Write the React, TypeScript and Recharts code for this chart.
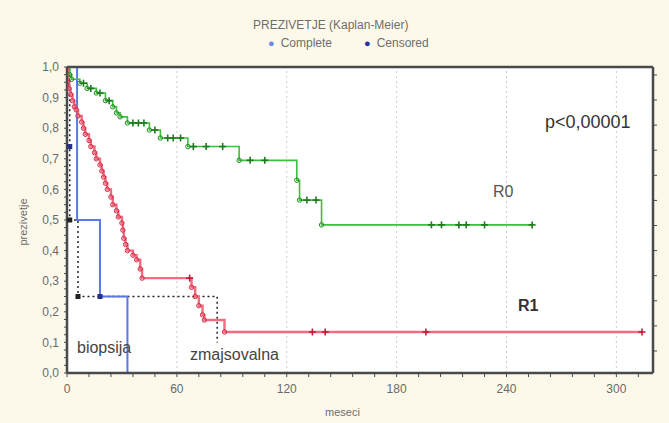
import React from 'react';
import { ComposedChart, Line, Scatter, XAxis, YAxis, CartesianGrid, ReferenceLine } from 'recharts';

// R0 (green) step curve
const r0Months = [0, 1.5, 2.5, 7, 11, 16, 21, 25, 27, 29, 33, 45, 51, 66, 94, 125.5, 127, 139, 254];
const r0Surv = [1.0, 0.975, 0.96, 0.947, 0.93, 0.915, 0.89, 0.87, 0.85, 0.837, 0.817, 0.794, 0.768, 0.74, 0.695, 0.63, 0.565, 0.484, 0.484];
const r0CensMonths = [9, 13, 18, 23, 36, 39, 42, 48, 55, 58, 62, 69, 76, 85, 100, 108, 131, 136, 199, 204.5, 214, 218, 228, 254];
const r0CensSurv = [0.947, 0.93, 0.915, 0.89, 0.817, 0.817, 0.817, 0.794, 0.768, 0.768, 0.768, 0.74, 0.74, 0.74, 0.695, 0.695, 0.565, 0.565, 0.484, 0.484, 0.484, 0.484, 0.484, 0.484];

// R1 (red) step curve
const r1Months = [0, 0.5, 1, 2, 3, 4, 5, 6, 8, 9, 10, 12, 13, 15, 16, 18, 19, 20, 21, 22, 24, 25, 27, 28, 30, 30.5, 31, 32, 33, 36, 38, 40, 41, 68, 70, 72, 74, 75, 86, 314];
const r1Surv = [1.0, 0.95, 0.93, 0.91, 0.89, 0.87, 0.86, 0.84, 0.82, 0.8, 0.78, 0.76, 0.74, 0.72, 0.7, 0.68, 0.66, 0.64, 0.62, 0.6, 0.575, 0.55, 0.53, 0.51, 0.49, 0.467, 0.44, 0.42, 0.4, 0.385, 0.37, 0.34, 0.31, 0.28, 0.25, 0.22, 0.19, 0.173, 0.134, 0.134];
const r1CensMonths = [67, 134, 141, 196, 314];
const r1CensSurv = [0.31, 0.134, 0.134, 0.134, 0.134];

// biopsija (blue) and zmajsovalna (black dotted)
const bioMonths = [0, 5.5, 18, 33];
const bioSurv = [1.0, 0.5, 0.25, 0.0];
const bioMarkMonths = [1.5, 18];
const bioMarkSurv = [0.74, 0.25];
const zmaMonths = [0, 1.5, 6, 82];
const zmaSurv = [1.0, 0.5, 0.25, 0.1];
const zmaMarkMonths = [1.5, 6];
const zmaMarkSurv = [0.5, 0.25];

// axes
const xTickLabels = [0, 60, 120, 180, 240, 300];
const xMinorTicks = [0, 12, 24, 36, 48, 60, 72, 84, 96, 108, 120, 132, 144, 156, 168, 180, 192, 204, 216, 228, 240, 252, 264, 276, 288, 300, 312];
const topTicks = [0, 9, 18, 27, 36, 45, 54, 63, 72, 81, 90, 99, 108, 117, 126, 135, 144, 153, 162, 171, 180, 189, 198, 207, 216, 225, 234, 243, 252, 261, 270, 279, 288, 297, 306, 315];
const yTickLabels = ['0,0', '0,1', '0,2', '0,3', '0,4', '0,5', '0,6', '0,7', '0,8', '0,9', '1,0'];
const yMinorTicks = [0, 0.025, 0.05, 0.075, 0.1, 0.125, 0.15, 0.175, 0.2, 0.225, 0.25, 0.275, 0.3, 0.325, 0.35, 0.375, 0.4, 0.425, 0.45, 0.475, 0.5, 0.525, 0.55, 0.575, 0.6, 0.625, 0.65, 0.675, 0.7, 0.725, 0.75, 0.775, 0.8, 0.825, 0.85, 0.875, 0.9, 0.925, 0.95, 0.975, 1.0];
const rightTicks = [0.072, 0.154, 0.236, 0.318, 0.4, 0.482, 0.564, 0.646, 0.728, 0.81, 0.892, 0.974];
const gridMonths = [60, 120, 180, 240, 300];

const toPoints = (ts: number[], ss: number[]) => ts.map((t, i) => ({ t, s: ss[i] }));

const r0Data = toPoints(r0Months, r0Surv);
const r1Data = toPoints(r1Months, r1Surv);
const bioData = toPoints(bioMonths, bioSurv);
const zmaData = toPoints(zmaMonths, zmaSurv);

const FONT = '"Liberation Sans", Arial, sans-serif';
const FRAME = '#4a4a4a';
const noLabel = () => '';

const yLabel = (v: number) => {
  const k = Math.round(v * 10);
  return Math.abs(v * 10 - k) < 1e-6 ? yTickLabels[k] : '';
};

const stepDot = (color: string, count: number) => (props: any) => {
  const { cx, cy, index } = props;
  if (index === 0 || index === count - 1 || cx == null) return <g key={`d-${index}`} />;
  return <circle key={`d-${index}`} cx={cx} cy={cy} r={2.2} fill="none" stroke={color} strokeWidth={1} />;
};

const plus = (color: string) => (props: any) => {
  const { cx, cy } = props;
  return (
    <g>
      <line x1={cx - 3.5} x2={cx + 3.5} y1={cy} y2={cy} stroke={color} strokeWidth={1.6} />
      <line x1={cx} x2={cx} y1={cy - 3.5} y2={cy + 3.5} stroke={color} strokeWidth={1.6} />
    </g>
  );
};

const square = (color: string) => (props: any) => {
  const { cx, cy } = props;
  return <rect x={cx - 2.5} y={cy - 2.5} width={5} height={5} fill={color} />;
};

const txt = (extra: React.CSSProperties): React.CSSProperties => ({
  position: 'absolute',
  fontFamily: FONT,
  lineHeight: 1,
  whiteSpace: 'nowrap',
  ...extra,
});

export default function App() {
  return (
    <div style={{ position: 'relative', width: 669, height: 423, background: '#fcf9eb' }}>
      <style>{'body{margin:0}'}</style>
      <ComposedChart
        width={669}
        height={423}
        margin={{ top: 62, right: 11, bottom: 18, left: 0 }}
        style={{ fontFamily: FONT }}
      >
        <CartesianGrid fill="#ffffff" horizontal={false} vertical={false} />
        {gridMonths.map(m => (
          <ReferenceLine key={m} x={m} stroke="#c8ccd8" strokeDasharray="2 3" strokeWidth={1} />
        ))}
        <XAxis
          type="number"
          dataKey="t"
          domain={[0, 320]}
          allowDataOverflow
          ticks={xMinorTicks}
          tickFormatter={(v: number) => (xTickLabels.includes(v) ? String(v) : '')}
          interval={0}
          height={32}
          tickSize={4}
          tickMargin={7}
          stroke={FRAME}
          axisLine={{ stroke: FRAME, strokeWidth: 2.5 }}
          tick={{ fill: '#6a6a6a', fontSize: 12 }}
        />
        <XAxis
          xAxisId="top"
          orientation="top"
          type="number"
          domain={[0, 320]}
          allowDataOverflow
          ticks={topTicks}
          interval={0}
          height={5}
          tickFormatter={noLabel}
          tickSize={4}
          stroke={FRAME}
          axisLine={{ stroke: FRAME, strokeWidth: 2.5 }}
        />
        <YAxis
          type="number"
          dataKey="s"
          domain={[0, 1]}
          allowDataOverflow
          ticks={yMinorTicks}
          interval={0}
          width={67}
          tickSize={3}
          tickMargin={5}
          tickFormatter={yLabel}
          stroke={FRAME}
          axisLine={{ stroke: FRAME, strokeWidth: 2.5 }}
          tick={{ fill: '#6a6a6a', fontSize: 12 }}
        />
        <YAxis
          yAxisId="right"
          orientation="right"
          type="number"
          domain={[0, 1]}
          allowDataOverflow
          ticks={rightTicks}
          interval={0}
          width={5}
          tickFormatter={noLabel}
          tickSize={4}
          stroke={FRAME}
          axisLine={{ stroke: FRAME, strokeWidth: 2.5 }}
        />

        <Line
          data={zmaData}
          dataKey="s"
          type="stepAfter"
          stroke="#222"
          strokeWidth={1.5}
          strokeDasharray="2 3"
          dot={false}
          isAnimationActive={false}
        />
        <Line
          data={bioData}
          dataKey="s"
          type="stepAfter"
          stroke="#5a78e6"
          strokeWidth={2}
          dot={false}
          isAnimationActive={false}
        />
        <Line
          data={r0Data}
          dataKey="s"
          type="stepAfter"
          stroke="#3cbf3c"
          strokeWidth={1.6}
          dot={stepDot('#1f8a1f', r0Data.length)}
          isAnimationActive={false}
        />
        <Line
          data={r1Data}
          dataKey="s"
          type="stepAfter"
          stroke="#f26c80"
          strokeWidth={2.4}
          dot={stepDot('#d42a44', r1Data.length)}
          isAnimationActive={false}
        />
        <Scatter data={toPoints(r0CensMonths, r0CensSurv)} shape={plus('#1d7a1d')} isAnimationActive={false} />
        <Scatter data={toPoints(r1CensMonths, r1CensSurv)} shape={plus('#c21c38')} isAnimationActive={false} />
        <Scatter data={toPoints(bioMarkMonths, bioMarkSurv)} shape={square('#23308c')} isAnimationActive={false} />
        <Scatter data={toPoints(zmaMarkMonths, zmaMarkSurv)} shape={square('#222')} isAnimationActive={false} />
      </ComposedChart>

      <div style={txt({ left: 253, top: 19, fontSize: 12, color: '#6e6e6e' })}>PREZIVETJE (Kaplan-Meier)</div>
      <div style={txt({ left: 268, top: 37, fontSize: 12, color: '#6e6e6e' })}>
        <span style={{ color: '#6f8ae6', fontSize: 11, marginRight: 6 }}>●</span>Complete
      </div>
      <div style={txt({ left: 364, top: 37, fontSize: 12, color: '#6e6e6e' })}>
        <span style={{ color: '#2a2fa8', fontSize: 11, marginRight: 6 }}>●</span>Censored
      </div>

      <div style={txt({ left: 545, top: 113, fontSize: 18, color: '#333' })}>p&lt;0,00001</div>
      <div style={txt({ left: 493, top: 184, fontSize: 16, color: '#555' })}>R0</div>
      <div style={txt({ left: 518, top: 298, fontSize: 16, fontWeight: 'bold', color: '#333' })}>R1</div>
      <div style={txt({ left: 77, top: 340, fontSize: 16, color: '#444' })}>biopsija</div>
      <div style={txt({ left: 190, top: 347, fontSize: 16, color: '#444' })}>zmajsovalna</div>

      <div style={txt({ left: 325, top: 407, fontSize: 11, color: '#6e6e6e' })}>meseci</div>
      <div
        style={txt({
          left: 23,
          top: 222,
          fontSize: 11,
          color: '#6e6e6e',
          transform: 'translate(-50%, -50%) rotate(-90deg)',
        })}
      >
        prezivetje
      </div>
    </div>
  );
}
